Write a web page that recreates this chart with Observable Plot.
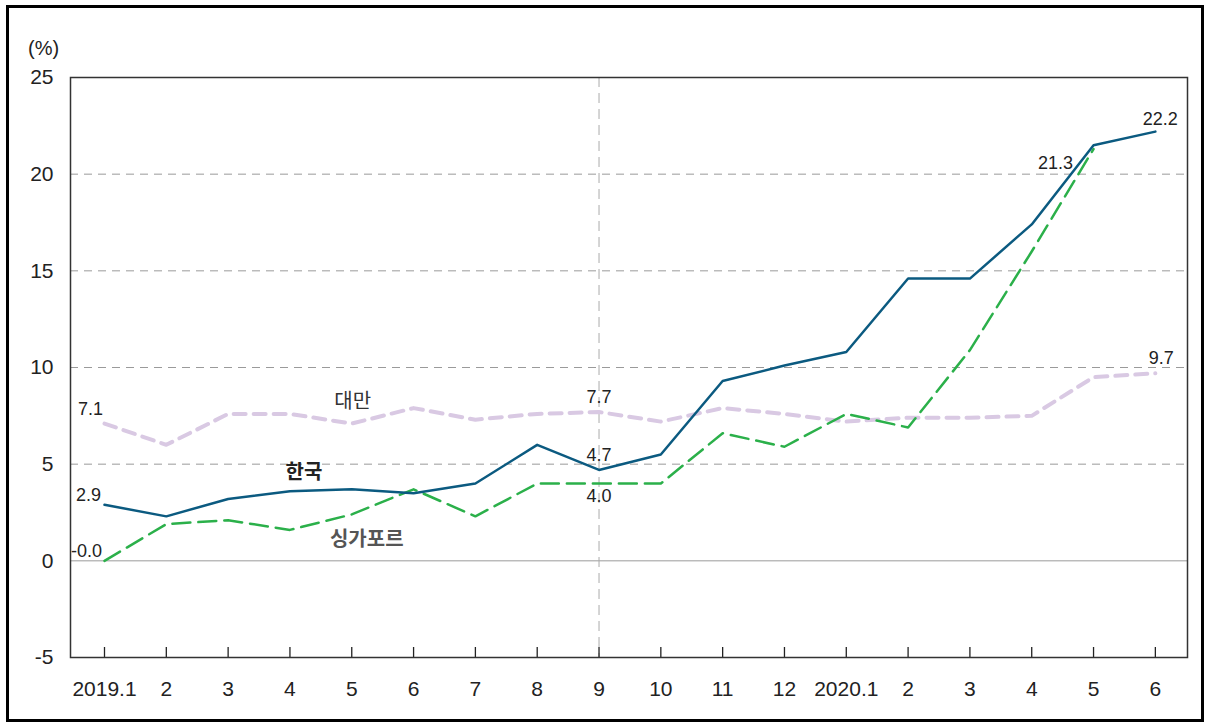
<!DOCTYPE html>
<html>
<head>
<meta charset="utf-8">
<script src="https://cdn.jsdelivr.net/npm/d3@7"></script>
<script src="https://cdn.jsdelivr.net/npm/@observablehq/plot@0.6"></script>
<style>
  html, body { margin: 0; padding: 0; background: #fff; }
  #wrap { position: relative; width: 1210px; height: 724px; }
  #wrap svg { position: absolute; left: 0; top: 0; }
  #border { position: absolute; left: 6px; top: 5px; width: 1198px; height: 717px; border: 3px solid #000; box-sizing: border-box; pointer-events: none; }
  #unit { position: absolute; left: 28px; top: 37px; font: 20px "Liberation Sans Narrow", "Arial Narrow", "Liberation Sans", sans-serif; color: #222; }
</style>
</head>
<body>
<div id="wrap"><div id="unit">(%)</div><div id="border"></div></div>
<script>
const months = ["2019.1","2","3","4","5","6","7","8","9","10","11","12","2020.1","2","3","4","5","6"];
const korea = [2.9,2.3,3.2,3.6,3.7,3.5,4.0,6.0,4.7,5.5,9.3,10.1,10.8,14.6,14.6,17.4,21.5,22.2];
const singapore = [0.0,1.9,2.1,1.6,2.4,3.7,2.3,4.0,4.0,4.0,6.6,5.9,7.6,6.9,10.9,16.0,21.3,null];
const taiwan = [7.1,6.0,7.6,7.6,7.1,7.9,7.3,7.6,7.7,7.2,7.9,7.6,7.2,7.4,7.4,7.5,9.5,9.7];
const yTicks = [-5,0,5,10,15,20,25];
const gridValues = [5,10,15,20];

const idx = months.map((_, i) => i);
const rows = (arr) => arr.map((v, i) => ({i, v})).filter(d => d.v != null);
const kr = rows(korea), sg = rows(singapore), tw = rows(taiwan);

const font = '"Liberation Sans Narrow", "Arial Narrow", "Liberation Sans", sans-serif';
const kfont = '"Noto Sans CJK KR", sans-serif';

const lbl = (data, i, text, dx, dy) => Plot.text([data.find(d => d.i === i)], {
  x: "i", y: "v", text: () => text, dx, dy, fontSize: 18, fill: "#222", fontFamily: font
});

const chart = Plot.plot({
  width: 1210, height: 724,
  marginLeft: 70, marginRight: 23, marginTop: 77, marginBottom: 67,
  style: {fontFamily: font, fontSize: "20px", color: "#222", background: "transparent"},
  x: {type: "linear", domain: [-0.55, 17.52], axis: null, label: null},
  y: {domain: [-5, 25], axis: null, label: null},
  marks: [
    Plot.ruleY(gridValues, {stroke: "#9a9a9a", strokeDasharray: "8,6", strokeWidth: 1}),
    Plot.ruleY([0], {stroke: "#9a9a9a", strokeWidth: 1}),
    Plot.ruleX([8], {stroke: "#aaa", strokeDasharray: "10,6", strokeWidth: 1}),
    Plot.ruleX(idx, {x: d => d, stroke: "#222", strokeWidth: 1.3, insetTop: 570}),
    Plot.axisY({ticks: yTicks, tickSize: 0, tickPadding: 17, fontSize: 21, label: null, tickFormat: d => String(d)}),
    Plot.axisX({ticks: idx, tickSize: 0, tickPadding: 24, fontSize: 21, label: null, tickFormat: i => months[i]}),
    Plot.line(tw, {x: "i", y: "v", stroke: "#d9c9e3", strokeWidth: 4, strokeDasharray: "12,8"}),
    Plot.line(sg, {x: "i", y: "v", stroke: "#2bb04a", strokeWidth: 2.5, strokeDasharray: "18,8"}),
    Plot.line(kr, {x: "i", y: "v", stroke: "#0b5a80", strokeWidth: 2.5}),
    Plot.frame({stroke: "#333", strokeWidth: 1.5}),
    lbl(tw, 0, "7.1", -14, -14),
    lbl(kr, 0, "2.9", -16, -10),
    lbl(sg, 0, "-0.0", -18, -10),
    lbl(tw, 8, "7.7", 0, -15),
    lbl(kr, 8, "4.7", 0, -15),
    lbl(sg, 8, "4.0", 0, 13),
    lbl(sg, 16, "21.3", -38, 14),
    lbl(kr, 17, "22.2", 5, -12),
    lbl(tw, 17, "9.7", 6, -15),
    Plot.text([tw[4]], {x: "i", y: "v", text: () => "대만", dx: 1, dy: -22, fontSize: 20, fill: "#333", fontFamily: kfont}),
    Plot.text([kr[3]], {x: "i", y: "v", text: () => "한국", dx: 14, dy: -19, fontSize: 20, fontWeight: "bold", fill: "#222", fontFamily: kfont}),
    Plot.text([sg[4]], {x: "i", y: "v", text: () => "싱가포르", dx: 15, dy: 25, fontSize: 20, fontWeight: "bold", fill: "#555", fontFamily: kfont})
  ]
});
document.getElementById("wrap").prepend(chart);
</script>
</body>
</html>
